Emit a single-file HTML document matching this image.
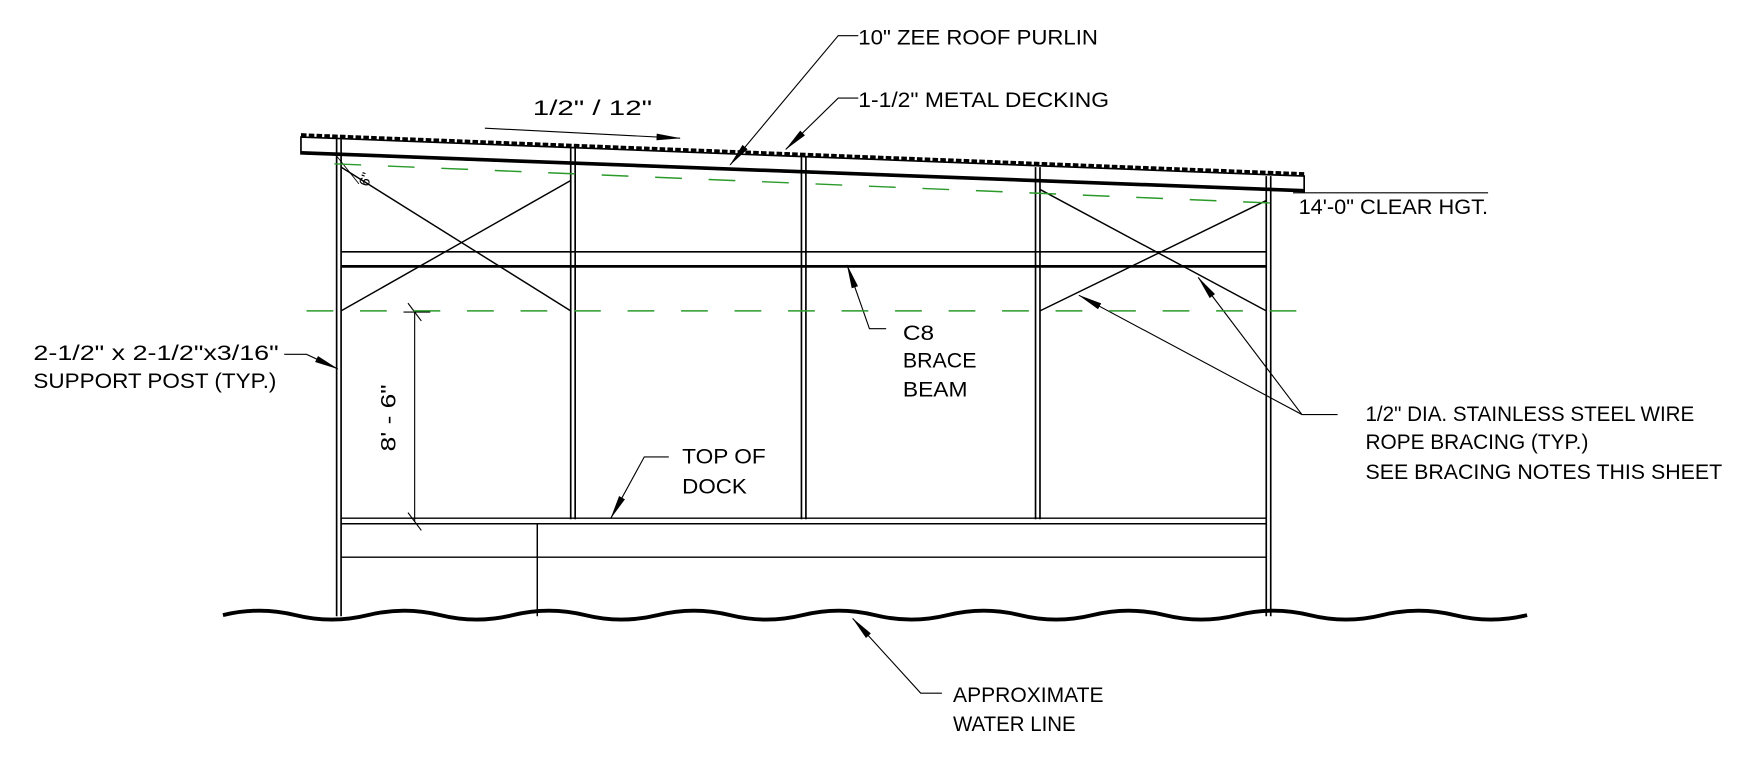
<!DOCTYPE html>
<html><head><meta charset="utf-8"><style>
html,body{margin:0;padding:0;background:#fff;}
svg{display:block;}
text{font-family:"Liberation Sans",sans-serif;font-size:19px;fill:#000;}
</style></head><body>
<svg width="1740" height="760" viewBox="0 0 1561 682" preserveAspectRatio="none" xmlns="http://www.w3.org/2000/svg">
<defs>
<marker id="a" markerWidth="22" markerHeight="10" refX="21" refY="5" orient="auto" markerUnits="userSpaceOnUse">
<path d="M0,2 L22,5 L0,8 Z" fill="#000"/></marker>
</defs>
<g stroke="#000" fill="none">
<line x1="270" y1="121" x2="1170" y2="156" stroke-width="3" stroke-dasharray="5 2"/>
<path d="M270,123 L1170,158 L1170,172 L270,138 Z" stroke-width="1.5"/>
<line x1="270" y1="137" x2="1170" y2="171" stroke-width="3"/>
<g stroke-width="1.5">
<line x1="302" y1="124" x2="302" y2="553"/><line x1="306" y1="125" x2="306" y2="553"/>
<line x1="512" y1="133" x2="512" y2="466"/><line x1="516" y1="133" x2="516" y2="466"/>
<line x1="719" y1="141" x2="719" y2="466"/><line x1="723" y1="141" x2="723" y2="466"/>
<line x1="929" y1="150" x2="929" y2="466"/><line x1="933" y1="150" x2="933" y2="466"/>
<line x1="1136" y1="158" x2="1136" y2="553"/><line x1="1140" y1="158" x2="1140" y2="553"/>
</g>
<line x1="306" y1="226" x2="1136" y2="226" stroke-width="1.5"/>
<line x1="306" y1="239" x2="1136" y2="239" stroke-width="2.5"/>
<g stroke-width="1.3">
<line x1="306" y1="150" x2="512" y2="279"/><line x1="306" y1="279" x2="512" y2="162"/>
<line x1="933" y1="170" x2="1136" y2="279"/><line x1="933" y1="279" x2="1136" y2="180"/>
</g>
<g stroke-width="1.3">
<line x1="306" y1="465" x2="1136" y2="465"/><line x1="306" y1="470" x2="1136" y2="470"/>
<line x1="306" y1="500" x2="1136" y2="500"/>
<line x1="482" y1="470" x2="482" y2="553"/>
</g>
<path d="M200,552 q32.5,-8 65,0 t65,0 t65,0 t65,0 t65,0 t65,0 t65,0 t65,0 t65,0 t65,0 t65,0 t65,0 t65,0 t65,0 t65,0 t65,0 t65,0 t65,0" stroke-width="3.5"/>
<line x1="372" y1="280" x2="372" y2="468" stroke-width="1"/>
<line x1="362" y1="280" x2="386" y2="280" stroke-width="1"/>
<line x1="366" y1="272" x2="378" y2="288" stroke-width="1"/>
<line x1="366" y1="460" x2="378" y2="476" stroke-width="1"/>
<line x1="302" y1="140" x2="322" y2="165" stroke-width="0.8"/>
<g stroke-width="1">
<polyline points="770,32 752,32 655,148" marker-end="url(#a)"/>
<polyline points="770,88 752,88 705,134" marker-end="url(#a)"/>
<line x1="435" y1="115" x2="610" y2="124" marker-end="url(#a)"/>
<line x1="1160" y1="173" x2="1335" y2="173"/>
<polyline points="255,318 275,318 303,331" marker-end="url(#a)"/>
<polyline points="795,295 780,295 760,238" marker-end="url(#a)"/>
<polyline points="1200,372 1168,372 968,265" marker-end="url(#a)"/>
<line x1="1168" y1="372" x2="1075" y2="249" marker-end="url(#a)"/>
<polyline points="600,410 578,410 548,465" marker-end="url(#a)"/>
<polyline points="845,622 826,622 765,555" marker-end="url(#a)"/>
</g>
</g>
<g stroke="#2a9a2a" stroke-width="1.3" stroke-dasharray="24 24" fill="none">
<line x1="300" y1="147" x2="1160" y2="183"/>
<line x1="275" y1="279" x2="1168" y2="279"/>
</g>
<text x="770" y="40" textLength="215" lengthAdjust="spacingAndGlyphs">10" ZEE ROOF PURLIN</text>
<text x="770" y="96" textLength="225" lengthAdjust="spacingAndGlyphs">1-1/2" METAL DECKING</text>
<text x="478" y="103" textLength="107" lengthAdjust="spacingAndGlyphs">1/2" / 12"</text>
<text x="1165" y="192" textLength="170" lengthAdjust="spacingAndGlyphs">14'-0" CLEAR HGT.</text>
<text x="30" y="323" textLength="220" lengthAdjust="spacingAndGlyphs">2-1/2" x 2-1/2"x3/16"</text>
<text x="30" y="348" textLength="218" lengthAdjust="spacingAndGlyphs">SUPPORT POST (TYP.)</text>
<text x="810" y="305" textLength="28" lengthAdjust="spacingAndGlyphs">C8</text>
<text x="810" y="330" textLength="66" lengthAdjust="spacingAndGlyphs">BRACE</text>
<text x="810" y="356" textLength="58" lengthAdjust="spacingAndGlyphs">BEAM</text>
<text x="1225" y="378" textLength="295" lengthAdjust="spacingAndGlyphs">1/2" DIA. STAINLESS STEEL WIRE</text>
<text x="1225" y="403" textLength="200" lengthAdjust="spacingAndGlyphs">ROPE BRACING (TYP.)</text>
<text x="1225" y="430" textLength="320" lengthAdjust="spacingAndGlyphs">SEE BRACING NOTES THIS SHEET</text>
<text x="612" y="416" textLength="75" lengthAdjust="spacingAndGlyphs">TOP OF</text>
<text x="612" y="443" textLength="58" lengthAdjust="spacingAndGlyphs">DOCK</text>
<text x="855" y="630" textLength="135" lengthAdjust="spacingAndGlyphs">APPROXIMATE</text>
<text x="855" y="656" textLength="110" lengthAdjust="spacingAndGlyphs">WATER LINE</text>
<text transform="translate(355,405) rotate(-90)" textLength="60" lengthAdjust="spacingAndGlyphs">8' - 6"</text>
<text transform="translate(330,168) rotate(-70)" style="font-size:13px">6"</text>
</svg>
</body></html>
